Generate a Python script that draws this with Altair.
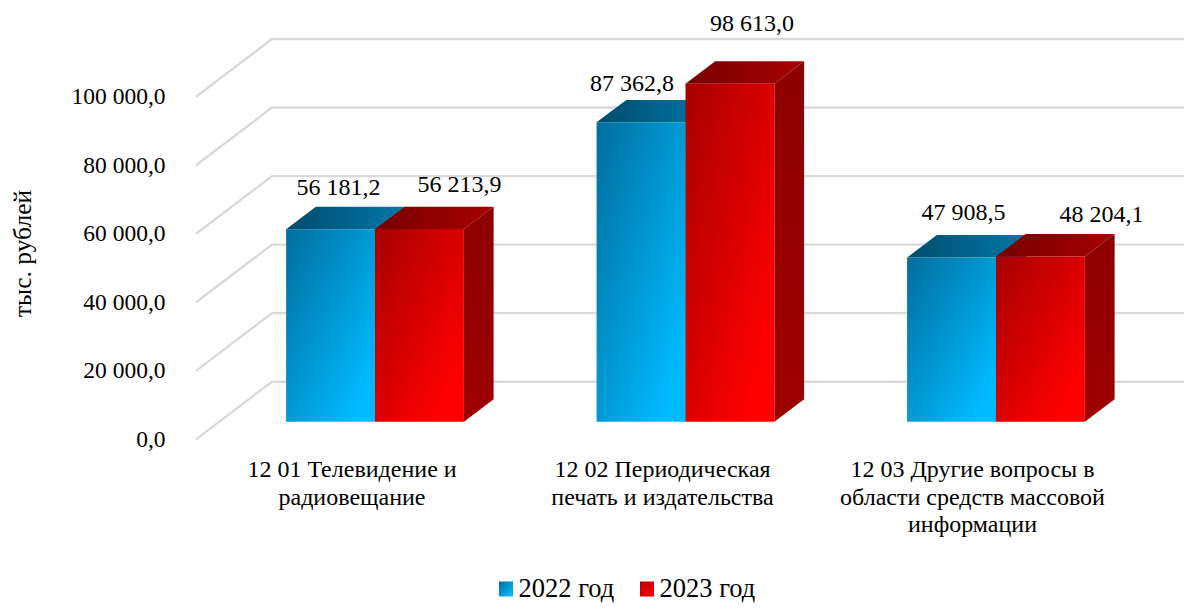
import altair as alt
import pandas as pd

categories = ["12 01 Телевидение и\nрадиовещание",
              "12 02 Периодическая\nпечать и издательства",
              "12 03 Другие вопросы в\nобласти средств массовой\nинформации"]
values_2022 = [56181.2, 87362.8, 47908.5]
values_2023 = [56213.9, 98613.0, 48204.1]
series_names = ["2022 год", "2023 год"]
y_ticks = [0, 20000, 40000, 60000, 80000, 100000]
y_title = "тыс. рублей"

FONT = "Liberation Serif"
LEFT, TOP, W, H = 196, 8, 988, 596       # plot box in page pixels
PX = 342.7 / 100000                      # pixels per thousand-rouble unit
ZERO = 439.4                             # page y of value 0 on the front edge
GRID_DX, GRID_DY = 76, 57.7              # wall depth
BAR_DX, BAR_DY = 29.7, 22.4              # bar depth
BASE_DY = 17.7                           # bar front above front floor edge
CENTER0, STEP, BAR_W = 375, 310.5, 88.9
# manual label nudges (page px from bar centre, and px above bar front top)
lab_dx = [[8, 40], [-9, 22], [12, 61]]
lab_up = [[41, 44], [38, 60], [45, 42]]
cat_cx = [352, 662.5, 972.5]


def px(page_x):
    return page_x - LEFT


def val(page_y):
    return (ZERO - page_y) / PX


ymin, ymax = val(TOP + H), val(TOP)
xs = alt.Scale(domain=[0, W], range=[0, W], nice=False, zero=False)
ys = alt.Scale(domain=[ymin, ymax], range=[H, 0], nice=False, zero=False)
label_expr = "replace(replace(format(datum.value, ',.1f'), ',', ' '), '.', ',')"
y_axis = alt.Axis(
    values=y_ticks, labelExpr=label_expr, domain=False, ticks=False, grid=False,
    labelFont=FONT, labelFontSize=23.5, labelColor="#000000", labelPadding=31,
    title=y_title, titleFont=FONT, titleFontSize=25.5, titleFontWeight="normal",
    titleColor="#000000", titleX=-161, titleY=245, titleAngle=270)
X = alt.X("x:Q", scale=xs, axis=None)
Y = alt.Y("y:Q", scale=ys, axis=y_axis)


def grad(c0, c1, x2=1, y2=1, end=1):
    return alt.LinearGradient(gradient="linear", x1=0, y1=0, x2=x2, y2=y2,
                              stops=[alt.GradientStop(offset=0, color=c0),
                                     alt.GradientStop(offset=end, color=c1)])


# back wall grid
grid_rows = []
for t in y_ticks:
    v0 = t
    v1 = t + GRID_DY / PX
    grid_rows += [dict(t=t, x=0, y=v0), dict(t=t, x=GRID_DX, y=v1), dict(t=t, x=W, y=v1)]
grid = alt.Chart(pd.DataFrame(grid_rows)).mark_line(color="#D9D9D9", strokeWidth=2.4).encode(
    x=X, y=Y, detail="t:N", order="x:Q")

base_v = BASE_DY / PX
depth_v = BAR_DY / PX
layers = [grid]
styles = [
    dict(vals=values_2022, off=-BAR_W, side=grad("#004F70", "#006A94", 0, 1),
         top=grad("#004C6C", "#0078A8", 1, 0), front=grad("#006E9C", "#00BBFF", end=0.88)),
    dict(vals=values_2023, off=0, side=grad("#8C0000", "#9E0000", 0, 1),
         top=grad("#760000", "#A80000", 1, 0), front=grad("#A60000", "#FF0000", end=0.85)),
]
label_rows = []
for s_i, s in enumerate(styles):
    side_rows, top_rows, front_rows = [], [], []
    for i, v in enumerate(s["vals"]):
        c = px(CENTER0 + i * STEP)
        x0 = c + s["off"]
        x1 = x0 + BAR_W
        side_rows += [dict(b=i, x=x1, y=base_v, y2=v + base_v),
                      dict(b=i, x=x1 + BAR_DX, y=base_v + depth_v, y2=v + base_v + depth_v)]
        top_rows += [dict(b=i, x=x0, y=v + base_v, y2=v + base_v),
                     dict(b=i, x=x0 + BAR_DX, y=v + base_v, y2=v + base_v + depth_v),
                     dict(b=i, x=x1, y=v + base_v, y2=v + base_v + depth_v),
                     dict(b=i, x=x1 + BAR_DX, y=v + base_v + depth_v, y2=v + base_v + depth_v)]
        front_rows.append(dict(x=x0, x2=x1, y=base_v, y2=v + base_v))
        label_rows.append(dict(x=(x0 + x1) / 2 + lab_dx[i][s_i],
                               y=v + base_v + lab_up[i][s_i] / PX,
                               text=f"{v:,.1f}".replace(",", " ").replace(".", ",")))
    layers.append(alt.Chart(pd.DataFrame(side_rows)).mark_area(color=s["side"], clip=False).encode(
        x=X, y=Y, y2="y2:Q", detail="b:N"))
    layers.append(alt.Chart(pd.DataFrame(top_rows)).mark_area(color=s["top"], clip=False).encode(
        x=X, y=Y, y2="y2:Q", detail="b:N"))
    layers.append(alt.Chart(pd.DataFrame(front_rows)).mark_rect(color=s["front"]).encode(
        x=X, x2="x2:Q", y=Y, y2="y2:Q"))

text_common = dict(font=FONT, color="#000000")
layers.append(alt.Chart(pd.DataFrame(label_rows)).mark_text(
    fontSize=24, align="center", baseline="middle", **text_common).encode(x=X, y=Y, text="text:N"))

cat_rows = [dict(x=px(cat_cx[i]), y=val(458), text=c) for i, c in enumerate(categories)]
layers.append(alt.Chart(pd.DataFrame(cat_rows)).mark_text(
    fontSize=24, align="center", baseline="top", lineBreak="\n", lineHeight=27.5,
    **text_common).encode(x=X, y=Y, text="text:N"))

# legend
leg_x = [499, 640]
leg_cy = 589
leg_rows = []
for i, name in enumerate(series_names):
    layers.append(alt.Chart(pd.DataFrame([dict(
        x=px(leg_x[i]), x2=px(leg_x[i] + 14), y=val(leg_cy + 7.5), y2=val(leg_cy - 7.5))])).mark_rect(
        color=styles[i]["front"]).encode(x=X, x2="x2:Q", y=Y, y2="y2:Q"))
    leg_rows.append(dict(x=px(leg_x[i] + 19.5), y=val(leg_cy), text=name))
layers.append(alt.Chart(pd.DataFrame(leg_rows)).mark_text(
    fontSize=26.5, align="left", baseline="middle", **text_common).encode(x=X, y=Y, text="text:N"))

chart = alt.layer(*layers).properties(
    width=W, height=H,
    autosize=alt.AutoSizeParams(type="none"),
    padding={"left": LEFT - 8, "top": TOP - 8, "right": 0, "bottom": 0},
    background="white",
).configure_view(stroke=None)

chart.save("out.html", embed_options={"renderer": "svg", "actions": False})
